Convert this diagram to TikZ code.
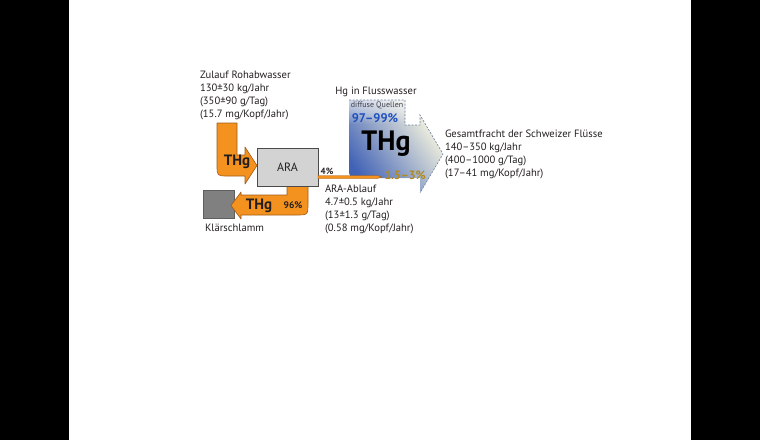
\documentclass[tikz,border=0pt]{standalone}
\usepackage{fontspec}
\setmainfont{PT Sans}
\usetikzlibrary{fadings}
\definecolor{orng}{RGB}{243,146,30}
\definecolor{orngedge}{RGB}{160,90,25}
\definecolor{txt}{RGB}{35,31,32}
\definecolor{aragray}{RGB}{211,211,211}
\definecolor{boxedge}{RGB}{75,75,75}
\definecolor{sludgegray}{RGB}{128,128,128}
\definecolor{sludgeedge}{RGB}{95,95,95}
\definecolor{pctblue}{RGB}{30,80,190}
\definecolor{goldtxt}{RGB}{178,138,25}
\definecolor{dashc}{RGB}{105,125,165}
\definecolor{shtop}{RGB}{255,252,225}
\definecolor{shmid}{RGB}{180,192,225}
\definecolor{shbot}{RGB}{65,98,182}
\definecolor{diffc}{RGB}{60,60,75}
\tikzfading[name=fadedown, top color=transparent!40, bottom color=transparent!100]
\begin{document}
\begin{tikzpicture}[x=1pt,y=-1pt,
  every node/.style={inner sep=0pt, outer sep=0pt},
  lbl/.style={anchor=north west, align=left, text=txt, font=\fontsize{10.6}{13.1}\selectfont},
  band/.style={fill=orng, draw=orngedge, line width=0.6pt, line join=round},
  bigthg/.style={font=\fontsize{15}{15}\selectfont\bfseries, text=txt}]
\useasboundingbox (0,0) rectangle (760,440);
\fill[black] (0,0) rectangle (69,440);
\fill[black] (691,0) rectangle (760,440);

% big river arrow
\shade[top color=shtop, middle color=shmid, bottom color=shbot, shading angle=-55]
  (349,100) -- (405,100) -- (405,125) -- (420,125) -- (420,115) -- (443,154)
  -- (420,193) -- (420,178) -- (360,178) .. controls (349,178) .. (349,167) -- cycle;
\fill[white, path fading=fadedown] (349,100) rectangle (405,124);
\draw[dashc, dashed, dash pattern=on 2pt off 1.5pt, line width=0.6pt]
  (349,100) -- (405,100) -- (405,125) -- (420,125) -- (420,115) -- (443,154) -- (420,193);

% inflow arrow
\draw[band] (217,123) -- (217,165) .. controls (217,176) .. (228,176) -- (245,176) -- (245,184)
  -- (257,165.5) -- (245,147) -- (245,155) -- (237,155) -- (237,123) -- cycle;

% sludge box and outflow arrow
\node[draw=sludgeedge, fill=sludgegray, line width=0.6pt, minimum width=31pt, minimum height=28pt] (sludge) at (219,204) {};
\draw[band] (287,186) -- (287,195) -- (241,195) -- (241,192) -- (231,205.5) -- (241,219)
  -- (241,215) -- (296,215) .. controls (308,215) .. (308,203) -- (308,186) -- cycle;

% ARA box and outflow line
\node[draw=boxedge, fill=aragray, line width=0.8pt, minimum width=61pt, minimum height=38pt,
  font=\fontsize{12}{14}\selectfont, text=txt] (ara) at (287.5,167.5) {ARA};
\coordinate (riverin) at (382,177);
\fill[orng, draw=orngedge, line width=0.4pt]
  ([yshift=1.5pt]ara.east |- riverin) -- ([xshift=-5pt,yshift=1.5pt]riverin) -- (riverin)
  -- ([xshift=-5pt,yshift=-1.5pt]riverin) -- ([yshift=-1.5pt]ara.east |- riverin) -- cycle;

% labels
\node[bigthg] (thgin) at (237,162) {THg};
\node[bigthg] (thgout) at (259,206) {THg};
\node[font=\fontsize{9.5}{10}\selectfont\bfseries, text=txt] (p96) at (293,205) {96\%};
\node[font=\fontsize{9}{10}\selectfont\bfseries, text=txt] (p4) at (327,171) {4\%};

\node[lbl] (zulauf) at (200,71) {Zulauf Rohabwasser\\130±30 kg/Jahr\\(350±90 g/Tag)\\(15.7 mg/Kopf/Jahr)};
\node[lbl] (gesamt) at (445,130) {Gesamtfracht der Schweizer Flüsse\\140–350 kg/Jahr\\(400–1000 g/Tag)\\(17–41 mg/Kopf/Jahr)};
\node[lbl] (ablauf) at (325,185) {ARA-Ablauf\\4.7±0.5 kg/Jahr\\(13±1.3 g/Tag)\\(0.58 mg/Kopf/Jahr)};
\node[anchor=west, text=txt, font=\fontsize{10.6}{13}\selectfont] (klaer) at (205,228) {Klärschlamm};
\node[text=txt, font=\fontsize{10.6}{13}\selectfont] (hgfluss) at (376,92) {Hg in Flusswasser};

\node[text=diffc, font=\fontsize{8}{9}\selectfont] (diffus) at (377,105) {diffuse Quellen};
\node[text=pctblue, font=\fontsize{12.5}{13}\selectfont\bfseries] (p9799) at (375,118) {97–99\%};
\node[text=black, font=\fontsize{28}{28}\selectfont\bfseries] (thgbig) at (386,144) {THg};
\node[text=goldtxt, font=\fontsize{12}{13}\selectfont\bfseries] (p153) at (405,175) {1.5–3\%};
\end{tikzpicture}
\end{document}
